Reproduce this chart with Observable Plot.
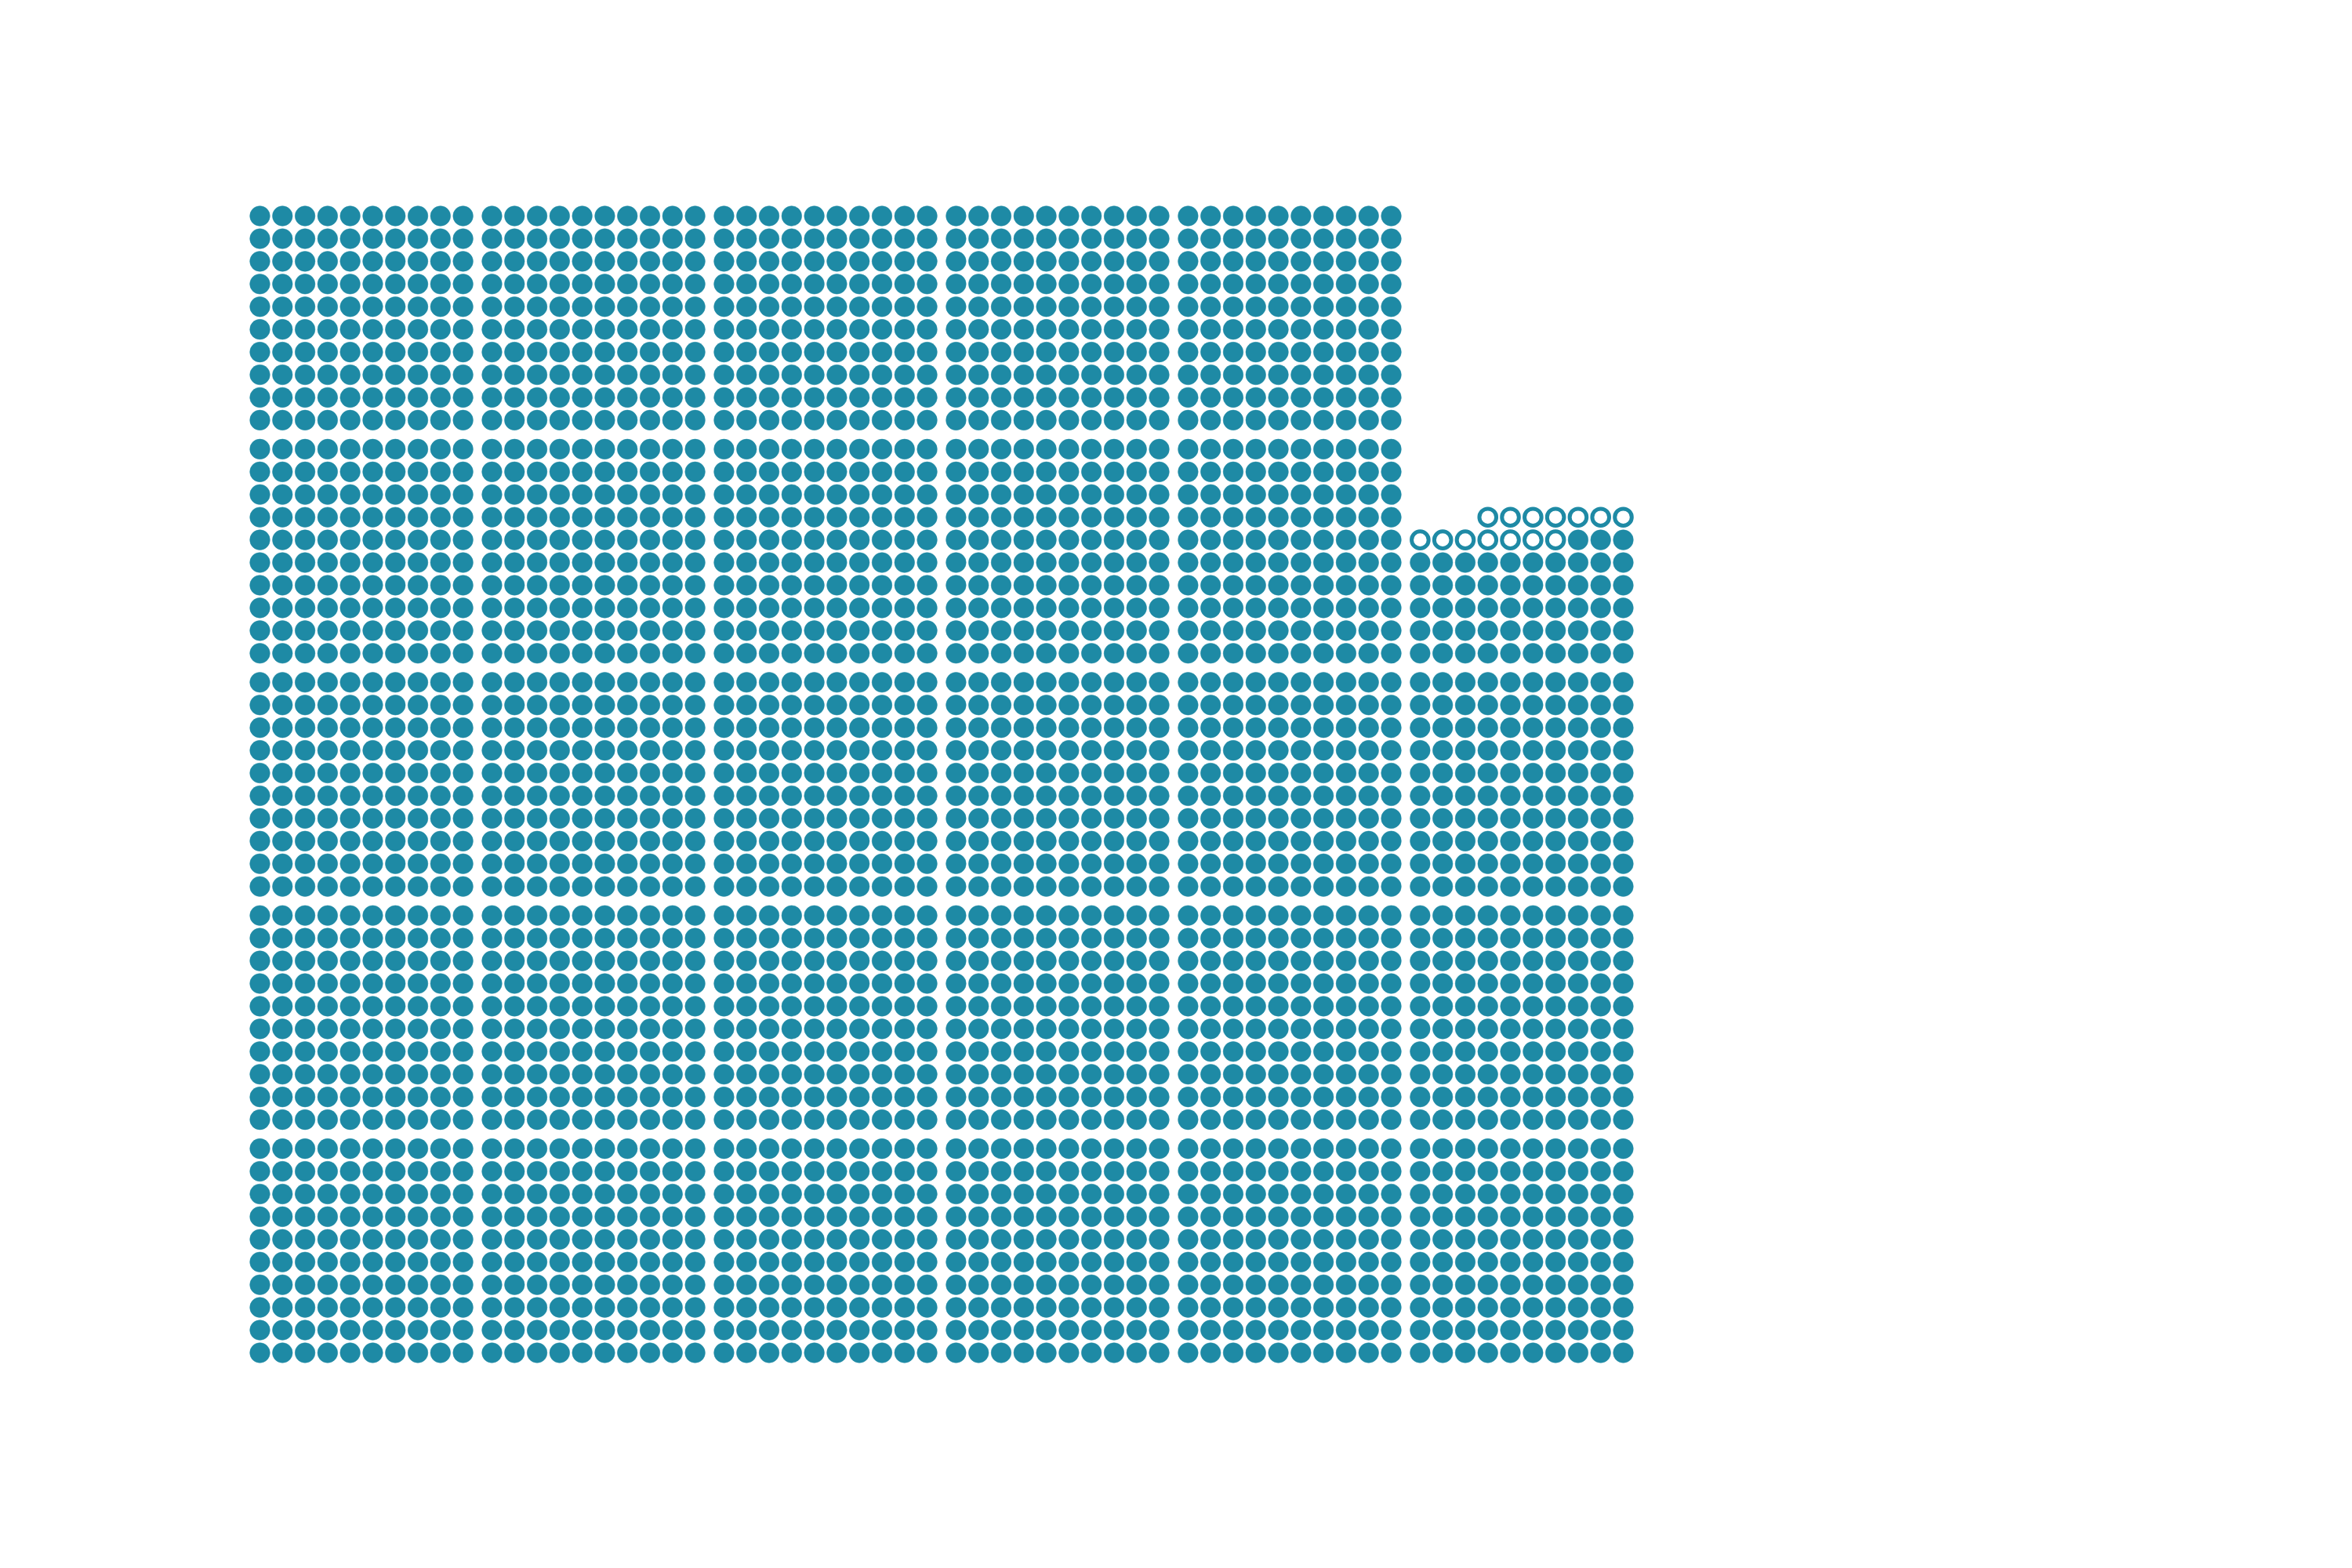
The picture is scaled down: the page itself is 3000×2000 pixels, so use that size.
<!DOCTYPE html>
<html>
<head>
<meta charset="utf-8">
<script src="https://cdn.jsdelivr.net/npm/d3@7"></script>
<script src="https://cdn.jsdelivr.net/npm/@observablehq/plot@0.6"></script>
<style>
  html, body { margin: 0; padding: 0; background: #ffffff; }
  #chart svg { display: block; }
</style>
</head>
<body>
<div id="chart"></div>
<script>
// Data: one column of 10×10 blocks per category
const categories = ["1", "2", "3", "4", "5", "6"];
const filledCounts = [500, 500, 500, 500, 500, 353];
const openCounts = [0, 0, 0, 0, 0, 14];

// waffle layout (grid units): 10 cells per row, 100 cells per block
const perRow = 10;
const perBlock = 100;
const blockGap = 0.28;

function cell(catIndex, k, kind) {
  const block = Math.floor(k / perBlock);
  const within = k % perBlock;
  const row = Math.floor(within / perRow);
  const col = perRow - 1 - (within % perRow); // rows fill from the right
  return {
    category: categories[catIndex],
    kind,
    gx: catIndex * (perRow + blockGap) + col,
    gy: block * (perRow + blockGap) + row
  };
}

const cells = [];
categories.forEach((c, i) => {
  for (let k = 0; k < filledCounts[i]; k++) cells.push(cell(i, k, "filled"));
  for (let k = 0; k < openCounts[i]; k++) cells.push(cell(i, filledCounts[i] + k, "open"));
});

const xMax = (categories.length - 1) * (perRow + blockGap) + perRow - 1;
const yMax = 4 * (perRow + blockGap) + perRow - 1;
const teal = "#1e8aa5";

const chart = Plot.plot({
  width: 3000,
  height: 2000,
  marginLeft: 331,
  marginRight: 930,
  marginTop: 275,
  marginBottom: 275,
  x: { domain: [0, xMax], axis: null },
  y: { domain: [0, yMax], axis: null },
  style: { background: "#ffffff" },
  marks: [
    Plot.dot(cells.filter(d => d.kind === "filled"), {
      x: "gx", y: "gy", r: 12.8, fill: teal, stroke: teal, strokeWidth: 0.5
    }),
    Plot.dot(cells.filter(d => d.kind === "open"), {
      x: "gx", y: "gy", r: 10.8, fill: "#ffffff", stroke: teal, strokeWidth: 5
    })
  ]
});
document.getElementById("chart").appendChild(chart);
</script>
</body>
</html>
